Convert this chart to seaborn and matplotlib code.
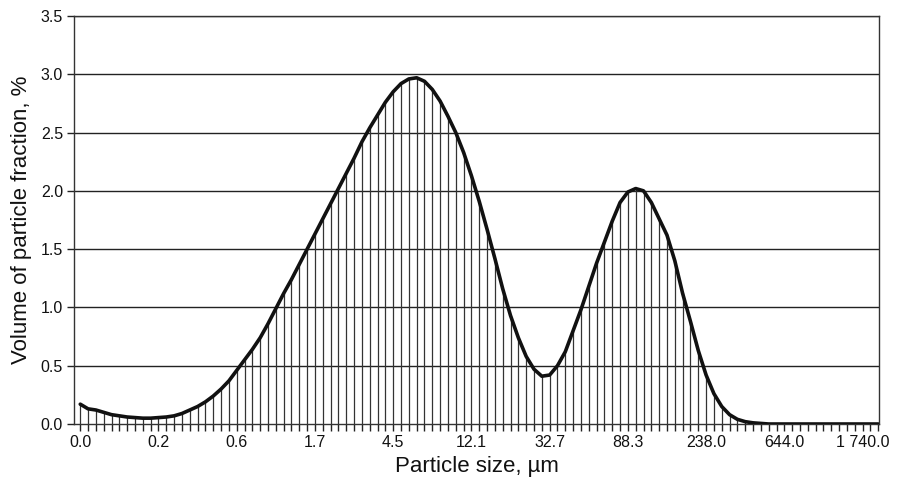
import matplotlib
matplotlib.use("Agg")
import matplotlib.pyplot as plt
import seaborn as sns
import numpy as np
import pandas as pd

tick_labels = ["0.0", "0.2", "0.6", "1.7", "4.5", "12.1", "32.7", "88.3",
               "238.0", "644.0", "1 740.0"]

volume = [
    0.17, 0.13, 0.12, 0.10, 0.08, 0.07, 0.06, 0.055, 0.05, 0.05,
    0.055, 0.06, 0.07, 0.09, 0.12, 0.15, 0.19, 0.24, 0.30, 0.37,
    0.46, 0.55, 0.64, 0.74, 0.86, 0.99, 1.12, 1.24, 1.37, 1.50,
    1.63, 1.76, 1.89, 2.02, 2.15, 2.28, 2.42, 2.54, 2.65, 2.76,
    2.85, 2.92, 2.96, 2.97, 2.94, 2.87, 2.77, 2.64, 2.50, 2.33,
    2.13, 1.91, 1.67, 1.42, 1.16, 0.93, 0.74, 0.58, 0.47, 0.41,
    0.42, 0.50, 0.62, 0.80, 0.98, 1.18, 1.38, 1.56, 1.74, 1.90,
    1.99, 2.02, 2.00, 1.90, 1.76, 1.62, 1.40, 1.12, 0.88, 0.63,
    0.42, 0.26, 0.15, 0.08, 0.04, 0.02, 0.01, 0.005, 0.0, 0.0,
    0.0, 0.0, 0.0, 0.0, 0.0, 0.0, 0.0, 0.0, 0.0, 0.0,
    0.0, 0.0, 0.0,
]

df = pd.DataFrame({"idx": np.arange(len(volume)), "volume": volume})

sns.set_style("white")
plt.rcParams["font.family"] = ["Liberation Sans", "DejaVu Sans"]

fig = plt.figure(figsize=(9.01, 4.88), dpi=100)
ax = fig.add_axes([74 / 901, 1 - 424 / 488, (879 - 74) / 901, (424 - 16) / 488])

# horizontal grid lines
for yv in np.arange(0.5, 3.51, 0.5):
    ax.axhline(yv, color="#222222", lw=1.0, zorder=1)

# drop lines
ax.vlines(df["idx"], 0, df["volume"], color="#333333", lw=0.9, zorder=2)

sns.lineplot(data=df, x="idx", y="volume", ax=ax, color="#111111", lw=2.6,
             zorder=3)

ax.set_xlim(-0.8, len(volume) - 0.9)
ax.set_ylim(0, 3.5)
ax.set_yticks(np.arange(0, 3.51, 0.5))
ax.set_yticklabels([f"{v:.1f}" for v in np.arange(0, 3.51, 0.5)])
ax.set_xticks(np.arange(0, len(tick_labels) * 10, 10))
ax.set_xticklabels(tick_labels)
ax.set_xticks(np.arange(0, len(volume)), minor=True)

ax.tick_params(axis="both", which="both", direction="out", length=5,
               width=1, color="#222222", labelsize=11.5, labelcolor="#111111")
ax.tick_params(axis="x", which="major", pad=3)
ax.tick_params(axis="y", pad=3, left=True)
ax.tick_params(axis="x", bottom=True, which="both")

for side in ["left", "bottom", "right", "top"]:
    ax.spines[side].set_visible(True)
    ax.spines[side].set_color("#333333")
    ax.spines[side].set_linewidth(1.0)

ax.set_xlabel("Particle size, µm", fontsize=16, color="#111111", labelpad=4)
ax.set_ylabel("Volume of particle fraction, %", fontsize=16, color="#111111",
              labelpad=6)

fig.savefig("out.png", dpi=100)
